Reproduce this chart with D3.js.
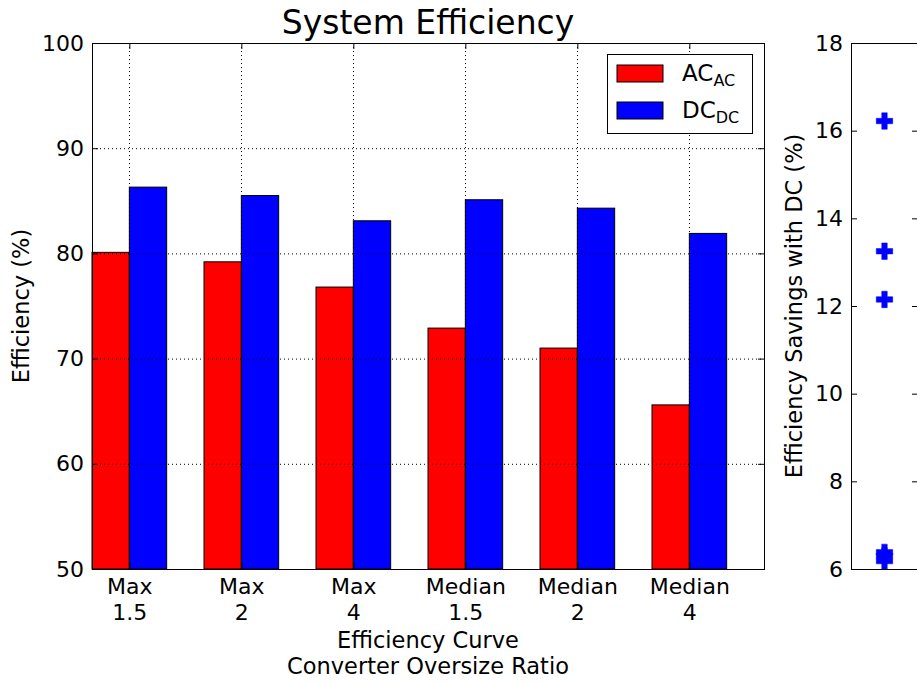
<!DOCTYPE html>
<html>
<head>
<meta charset="utf-8">
<script src="https://cdn.jsdelivr.net/npm/d3@7"></script>
<style>
  body { margin: 0; background: #fff; }
  svg { font-family: "DejaVu Sans", sans-serif; }
  .grid line { stroke: #000; stroke-width: 1; stroke-dasharray: 1,3; }
</style>
</head>
<body>
<div id="chart"></div>
<script>
/**
 * DATA
 **/
const categories = [["Max", "1.5"], ["Max", "2"], ["Max", "4"],
                    ["Median", "1.5"], ["Median", "2"], ["Median", "4"]];
const acValues = [80.1, 79.2, 76.8, 72.9, 71.0, 65.6];
const dcValues = [86.3, 85.5, 83.1, 85.1, 84.3, 81.9];
const savings = [6.18, 6.3, 6.38, 12.15, 13.25, 16.22];
const effTicks = [50, 60, 70, 80, 90, 100];
const savTicks = [6, 8, 10, 12, 14, 16, 18];

/**
 * CONSTANTS
 **/
const width = 917, height = 684,
  main = { left: 92, right: 764, top: 43, bottom: 569 },
  side = { left: 851, right: 918, top: 43, bottom: 569 },
  tickLen = 6, barW = 1 / 3;

const svg = d3.select("#chart").append("svg")
  .attr("width", width).attr("height", height);

// SCALES
const xScale = d3.scaleLinear().domain([0, categories.length]).range([main.left, main.right]);
const yScale = d3.scaleLinear().domain([50, 100]).range([main.bottom, main.top]);
const x2 = d3.scaleLinear().domain([0, 2]).range([side.left, side.right]);
const y2 = d3.scaleLinear().domain([6, 18]).range([side.bottom, side.top]);

const tickPos = categories.map((d, i) => i + barW);

// BARS
const bars = svg.append("g");
bars.selectAll("rect.ac")
  .data(acValues)
  .join("rect")
  .attr("class", "ac")
  .attr("x", (d, i) => xScale(i))
  .attr("width", xScale(barW) - xScale(0))
  .attr("y", d => yScale(d))
  .attr("height", d => yScale(50) - yScale(d))
  .attr("fill", "#ff0000").attr("stroke", "#000").attr("stroke-width", 1);

bars.selectAll("rect.dc")
  .data(dcValues)
  .join("rect")
  .attr("class", "dc")
  .attr("x", (d, i) => xScale(i + barW))
  .attr("width", xScale(barW) - xScale(0))
  .attr("y", d => yScale(d))
  .attr("height", d => yScale(50) - yScale(d))
  .attr("fill", "#0000ff").attr("stroke", "#000").attr("stroke-width", 1);

// GRID (drawn over the bars)
const grid = svg.append("g").attr("class", "grid");
grid.selectAll("line.h")
  .data(effTicks.slice(1, -1))
  .join("line")
  .attr("x1", main.left).attr("x2", main.right)
  .attr("y1", d => yScale(d) + 0.5).attr("y2", d => yScale(d) + 0.5);
grid.selectAll("line.v")
  .data(tickPos)
  .join("line")
  .attr("class", "v")
  .attr("x1", d => Math.round(xScale(d)) + 0.5).attr("x2", d => Math.round(xScale(d)) + 0.5)
  .attr("y1", main.top).attr("y2", main.bottom);

// AXES (classic style: ticks inward on every side)
svg.append("g")
  .attr("transform", `translate(${main.left},0)`)
  .call(d3.axisLeft(yScale).tickValues(effTicks).tickSizeInner(-tickLen).tickSizeOuter(0).tickPadding(tickLen + 2))
  .call(g => g.select(".domain").remove());
svg.append("g")
  .attr("transform", `translate(${main.right},0)`)
  .call(d3.axisRight(yScale).tickValues(effTicks).tickSizeInner(-tickLen).tickSizeOuter(0).tickFormat(""))
  .call(g => g.select(".domain").remove());
svg.append("g")
  .attr("transform", `translate(0,${main.top})`)
  .call(d3.axisTop(xScale).tickValues(tickPos).tickSizeInner(-tickLen).tickSizeOuter(0).tickFormat(""))
  .call(g => g.select(".domain").remove());
const xAxis = svg.append("g")
  .attr("transform", `translate(0,${main.bottom})`)
  .call(d3.axisBottom(xScale).tickValues(tickPos).tickSizeInner(-tickLen).tickSizeOuter(0).tickFormat(""))
  .call(g => g.select(".domain").remove());

svg.selectAll(".tick text").attr("font-size", 22).attr("fill", "#000")
  .attr("font-family", "DejaVu Sans");

// two-line category labels
xAxis.selectAll(".tick")
  .data(categories)
  .append("text")
  .attr("text-anchor", "middle")
  .attr("font-size", 22)
  .attr("font-family", "DejaVu Sans")
  .attr("fill", "#000")
  .selectAll("tspan")
  .data(d => d)
  .join("tspan")
  .attr("x", 0)
  .attr("y", (d, i) => 25 + i * 26)
  .text(d => d);

svg.append("rect")
  .attr("x", main.left + 0.5).attr("y", main.top + 0.5)
  .attr("width", main.right - main.left).attr("height", main.bottom - main.top)
  .attr("fill", "none").attr("stroke", "#000").attr("stroke-width", 1);

// TITLES
svg.append("text")
  .attr("x", (main.left + main.right) / 2).attr("y", 34)
  .attr("text-anchor", "middle").attr("font-size", 33)
  .text("System Efficiency");

svg.append("text")
  .attr("transform", `translate(29,${(main.top + main.bottom) / 2}) rotate(-90)`)
  .attr("text-anchor", "middle").attr("font-size", 22.5)
  .text("Efficiency (%)");

const xLabel = svg.append("text")
  .attr("text-anchor", "middle").attr("font-size", 22.5);
xLabel.append("tspan").attr("x", (main.left + main.right) / 2).attr("y", 648).text("Efficiency Curve");
xLabel.append("tspan").attr("x", (main.left + main.right) / 2).attr("y", 674).text("Converter Oversize Ratio");

// LEGEND
const legend = svg.append("g").attr("transform", "translate(607,54)");
legend.append("rect")
  .attr("x", 0.5).attr("y", 0.5).attr("width", 145).attr("height", 79)
  .attr("fill", "#fff").attr("stroke", "#000");
const legendItems = [
  { name: "AC", color: "#ff0000" },
  { name: "DC", color: "#0000ff" }
];
const item = legend.selectAll("g.item")
  .data(legendItems)
  .join("g")
  .attr("transform", (d, i) => `translate(10,${11 + i * 37})`);
item.append("rect")
  .attr("width", 46).attr("height", 17)
  .attr("fill", d => d.color).attr("stroke", "#000");
const lt = item.append("text")
  .attr("x", 65).attr("y", 16).attr("font-size", 23);
lt.append("tspan").text(d => d.name);
lt.append("tspan").attr("font-size", 16).attr("dy", 5).text(d => d.name);

// SIDE PANEL: savings
const sideG = svg.append("g");
sideG.append("g")
  .attr("transform", `translate(${side.left},0)`)
  .call(d3.axisLeft(y2).tickValues(savTicks).tickSizeInner(-tickLen).tickSizeOuter(0).tickPadding(tickLen + 2))
  .call(g => g.select(".domain").remove())
  .selectAll("text").attr("font-size", 22).attr("fill", "#000").attr("font-family", "DejaVu Sans");
sideG.append("g")
  .attr("transform", `translate(${side.right},0)`)
  .call(d3.axisRight(y2).tickValues(savTicks).tickSizeInner(-tickLen).tickSizeOuter(0).tickFormat(""))
  .call(g => g.select(".domain").remove());

sideG.selectAll("path.pt")
  .data(savings)
  .join("path")
  .attr("class", "pt")
  .attr("d", d3.symbol(d3.symbolCross, 150))
  .attr("transform", d => `translate(${x2(1)},${y2(d)})`)
  .attr("fill", "#0000ff").attr("stroke", "#0000ff").attr("stroke-width", 0.5);

sideG.append("rect")
  .attr("x", side.left + 0.5).attr("y", side.top + 0.5)
  .attr("width", side.right - side.left).attr("height", side.bottom - side.top)
  .attr("fill", "none").attr("stroke", "#000");

svg.append("text")
  .attr("transform", `translate(802,${(side.top + side.bottom) / 2}) rotate(-90)`)
  .attr("text-anchor", "middle").attr("font-size", 22.5)
  .text("Efficiency Savings with DC (%)");
</script>
</body>
</html>
